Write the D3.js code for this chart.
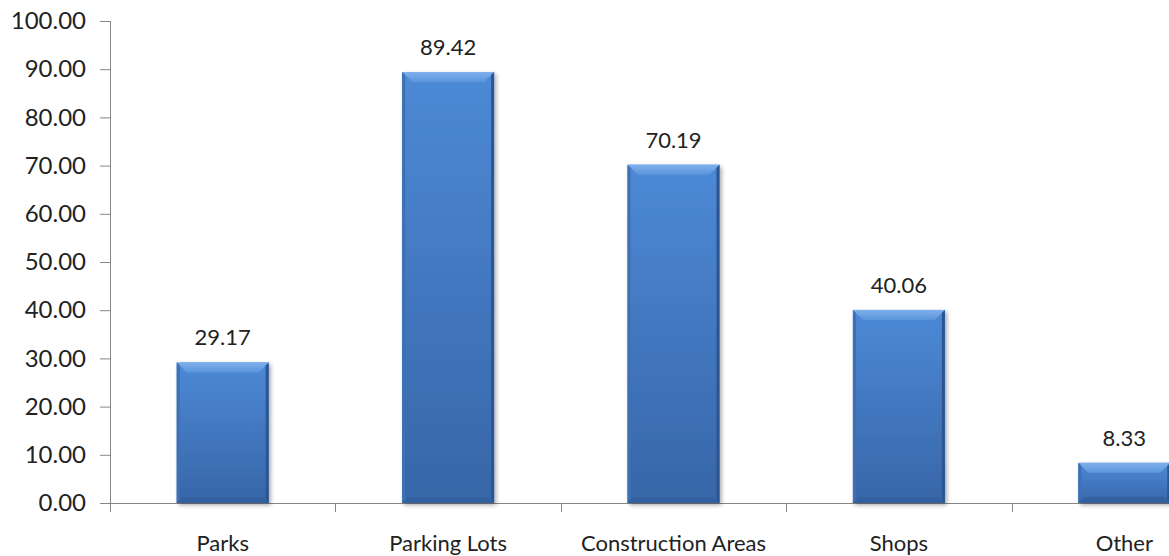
<!DOCTYPE html>
<html>
<head>
<meta charset="utf-8">
<script src="https://cdn.jsdelivr.net/npm/d3@7"></script>
<style>
  body { margin: 0; background: #fff; }
  svg text { font-family: Lato, "Open Sans", sans-serif; fill: #222; }
</style>
</head>
<body>
<div id="chart"></div>
<script>
// chart data
const categories = ["Parks", "Parking Lots", "Construction Areas", "Shops", "Other"];
const values = [29.17, 89.42, 70.19, 40.06, 8.33];
const yTicks = [0, 10, 20, 30, 40, 50, 60, 70, 80, 90, 100];

const width = 1169, height = 556;
const margin = {top: 21, right: -68, bottom: 53, left: 110};

const svg = d3.select("#chart").append("svg")
    .attr("width", width)
    .attr("height", height);

const defs = svg.append("defs");

// body gradient: lighter top, darker bottom
let body = defs.append("linearGradient").attr("id", "barBody")
    .attr("x1", 0).attr("y1", 0).attr("x2", 0).attr("y2", 1);
body.append("stop").attr("offset", "0%").attr("stop-color", "#4d89d6");
body.append("stop").attr("offset", "100%").attr("stop-color", "#3766a8");

let cap = defs.append("linearGradient").attr("id", "barCap")
    .attr("x1", 0).attr("y1", 0).attr("x2", 0).attr("y2", 1);
cap.append("stop").attr("offset", "0%").attr("stop-color", "#7fb0ec");
cap.append("stop").attr("offset", "100%").attr("stop-color", "#5b94dc");

let shadow = defs.append("filter").attr("id", "shadow")
    .attr("x", "-10%").attr("y", "-10%").attr("width", "130%").attr("height", "130%");
shadow.append("feDropShadow")
    .attr("dx", 2).attr("dy", 2).attr("stdDeviation", 2)
    .attr("flood-color", "#000").attr("flood-opacity", 0.35);

// scales
const x = d3.scaleBand()
    .domain(categories)
    .range([margin.left, width - margin.right]);

const y = d3.scaleLinear()
    .domain([0, 100])
    .range([height - margin.bottom, margin.top]);

const barW = x.bandwidth() / 2.45;
const bevel = 10;

// y axis
const yAxis = d3.axisLeft(y)
    .tickValues(yTicks)
    .tickFormat(d3.format(".2f"))
    .tickSizeOuter(0)
    .tickSize(10)
    .tickPadding(14);

const yG = svg.append("g")
    .attr("transform", `translate(${margin.left},0)`)
    .call(yAxis);
yG.select(".domain").remove();
yG.append("line")
    .attr("x1", 0.5).attr("x2", 0.5)
    .attr("y1", y(100)).attr("y2", y(0) + 9)
    .attr("stroke", "#868686");
yG.selectAll(".tick line").attr("stroke", "#868686");
yG.selectAll(".tick text").style("font-size", "24px").attr("fill", "#222");

// x axis
const xAxis = d3.axisBottom(x)
    .tickSize(0)
    .tickPadding(32);

const xG = svg.append("g")
    .attr("transform", `translate(0,${y(0)})`)
    .call(xAxis);
xG.select(".domain").attr("stroke", "#868686");
xG.selectAll(".tick text").style("font-size", "22px").attr("fill", "#222");

// category separators
xG.selectAll(".sep")
    .data(categories.slice(1))
    .join("line")
    .attr("class", "sep")
    .attr("x1", d => Math.round(x(d)) + 0.5)
    .attr("x2", d => Math.round(x(d)) + 0.5)
    .attr("y1", 0).attr("y2", 9)
    .attr("stroke", "#868686");

// bars
const bars = svg.append("g")
    .selectAll("g.bar")
    .data(categories.map((c, i) => ({cat: c, val: values[i]})))
    .join("g")
    .attr("class", "bar")
    .attr("transform", d => `translate(${x(d.cat) + (x.bandwidth() - barW) / 2},0)`);

bars.append("rect")
    .attr("x", 0)
    .attr("y", d => y(d.val))
    .attr("width", barW)
    .attr("height", d => y(0) - y(d.val))
    .attr("fill", "url(#barBody)")
    .attr("filter", "url(#shadow)");

// top bevel
bars.append("path")
    .attr("d", d => {
        const t = y(d.val);
        return `M0,${t} L${barW},${t} L${barW - bevel},${t + bevel} L${bevel},${t + bevel} Z`;
    })
    .attr("fill", "url(#barCap)");

// side bevels
bars.append("path")
    .attr("d", d => {
        const t = y(d.val), b = y(0);
        return `M0,${t} L3,${t + 3} L3,${b - 3} L0,${b} Z`;
    })
    .attr("fill", "#3d70b5");

bars.append("path")
    .attr("d", d => {
        const t = y(d.val), b = y(0);
        return `M${barW},${t} L${barW - 3},${t + 3} L${barW - 3},${b - 3} L${barW},${b} Z`;
    })
    .attr("fill", "#2c5592");

// bottom bevel
bars.append("path")
    .attr("d", d => {
        const b = y(0);
        return `M0,${b} L${barW},${b} L${barW - 6},${b - 6} L6,${b - 6} Z`;
    })
    .attr("fill", "#325f9c")
    .attr("opacity", 0.8);

// value labels
bars.append("text")
    .attr("x", barW / 2)
    .attr("y", d => y(d.val) - 17)
    .attr("text-anchor", "middle")
    .style("font-size", "22px")
    .text(d => d3.format(".2f")(d.val));
</script>
</body>
</html>
